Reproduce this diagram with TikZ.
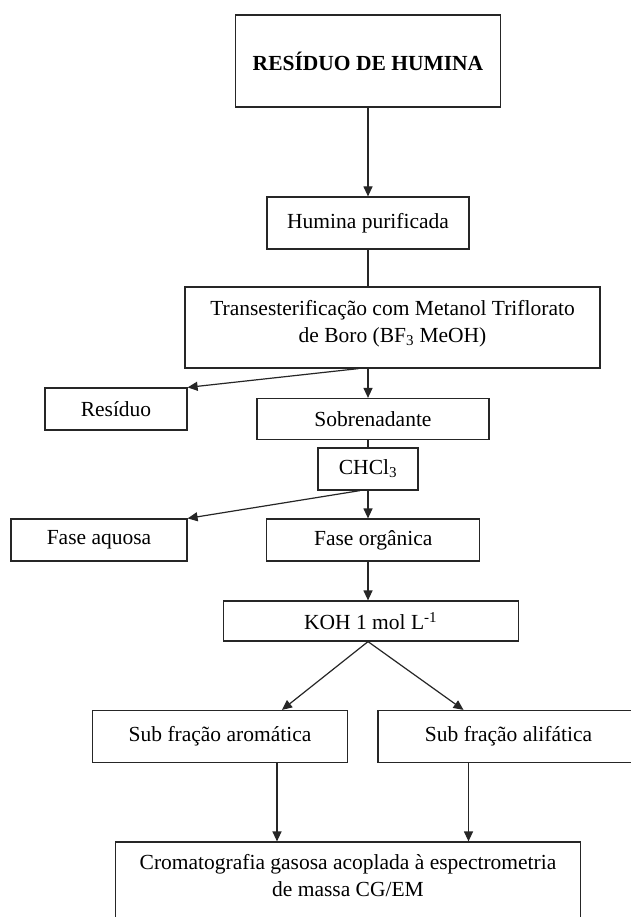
\documentclass[tikz,border=0pt]{standalone}
\usepackage{fontspec}
\setmainfont{Liberation Serif}
\usetikzlibrary{arrows.meta}

\begin{document}
\begin{tikzpicture}[x=1pt,y=-1pt,
    >={Triangle[length=10pt,width=9pt]},
    box/.style={draw=black!85,line width=1.2pt,inner sep=0pt,align=center,
        font=\fontsize{21.5}{27}\selectfont},
    every edge/.append style={draw=black!85,line width=1.2pt}]
    \fill[white] (0,0) rectangle (630,917);
    \useasboundingbox (0,0) rectangle (630,917);

    \node[box,minimum width=265pt,minimum height=92pt,font=\fontsize{21.5}{27}\selectfont\bfseries] (residuoHumina) at (368,61) {RESÍDUO DE HUMINA};
    \node[box,minimum width=202pt,minimum height=52pt] (humina) at (368,223) {Humina purificada};
    \node[box,minimum width=415pt,minimum height=81pt] (trans) at (392.5,327.5)
        {Transesterificação com Metanol Triflorato\\de Boro (BF\textsubscript{3} MeOH)\\[-14pt]\mbox{}};
    \node[box,minimum width=142pt,minimum height=42pt] (residuo) at (116,409) {Resíduo};
    \node[box,minimum width=232pt,minimum height=41pt] (sobren) at (373,419) {Sobrenadante};
    \node[box,minimum width=100pt,minimum height=42pt] (chcl3) at (368,469) {CHCl\textsubscript{3}};
    \node[box,minimum width=176pt,minimum height=42pt] (aquosa) at (99,540) {Fase aquosa};
    \node[box,minimum width=213pt,minimum height=42pt] (organica) at (373.3,540) {Fase orgânica};
    \node[box,minimum width=295pt,minimum height=40pt] (koh) at (370.7,621) {KOH 1 mol L\textsuperscript{-1}};
    \node[box,minimum width=255pt,minimum height=52pt] (aromatica) at (220,736.5) {Sub fração aromática};
    \node[box,minimum width=261pt,minimum height=52pt] (alifatica) at (508.5,736.5) {Sub fração alifática};
    \node[box,minimum width=465pt,minimum height=93pt] (cromato) at (348,888.5)
        {Cromatografia gasosa acoplada à espectrometria\\de massa CG/EM\\\mbox{}};

    \path[->]
    (residuoHumina) edge (humina)
    (humina) edge[-] (humina |- trans.north)
    (trans.south -| humina) edge (sobren.north -| humina)
    ([xshift=-34pt]trans.south) edge (residuo.north east)
    (sobren.south -| chcl3) edge[-] (chcl3)
    (chcl3) edge (chcl3 |- organica.north)
    ([xshift=-8pt]chcl3.south) edge (aquosa.north east)
    (organica.south -| chcl3) edge (koh.north -| chcl3)
    (koh.south -| chcl3) edge ([xshift=62pt]aromatica.north)
    (koh.south -| chcl3) edge ([xshift=-45pt]alifatica.north)
    ([xshift=57pt]aromatica.south) edge ([xshift=57pt]aromatica.south |- cromato.north)
    ([xshift=-40pt]alifatica.south) edge ([xshift=-40pt]alifatica.south |- cromato.north);
\end{tikzpicture}
\end{document}
